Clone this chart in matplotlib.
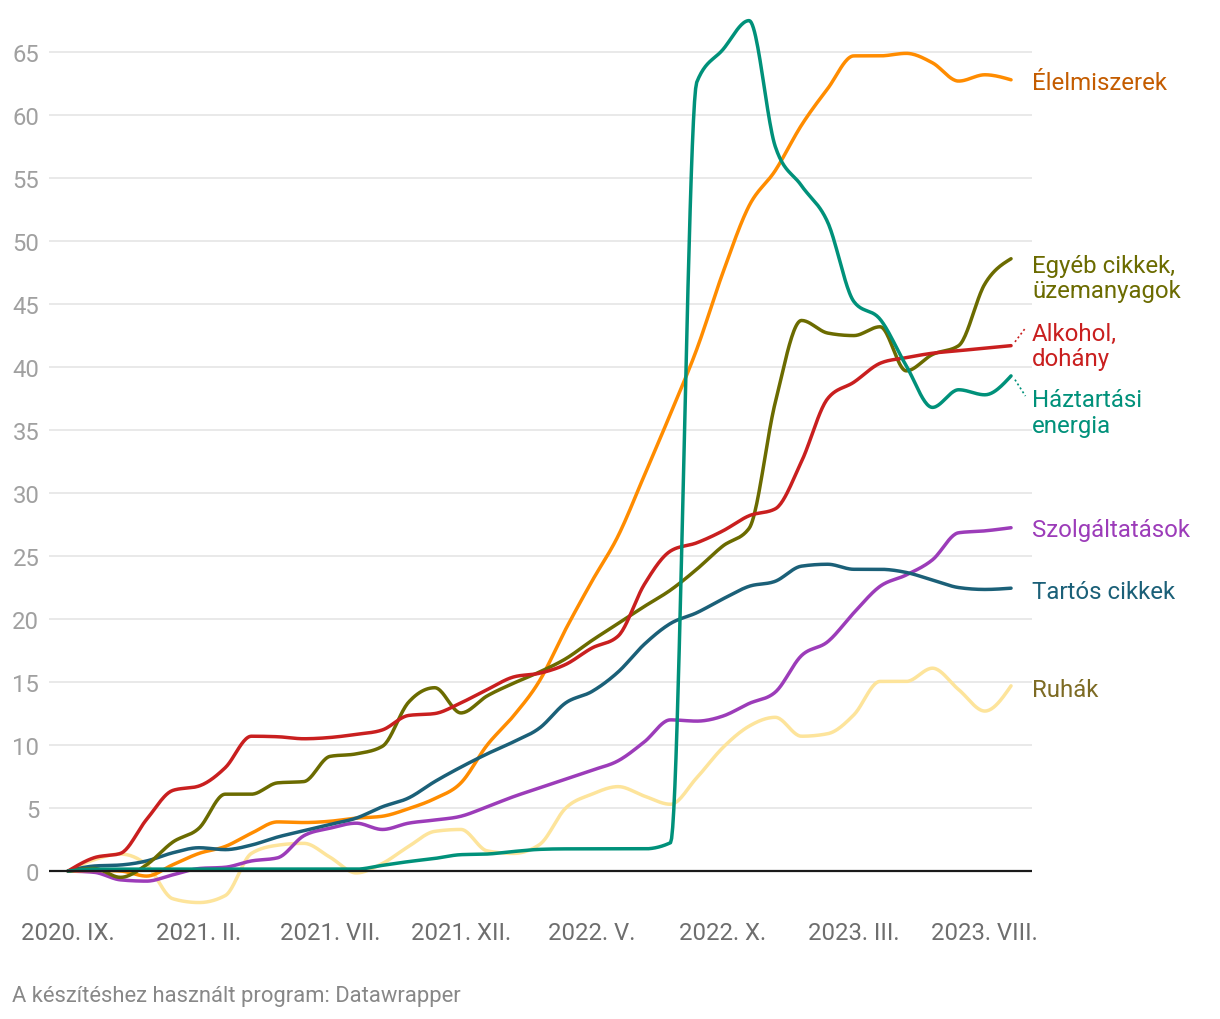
import numpy as np
import matplotlib.pyplot as plt
from matplotlib.transforms import blended_transform_factory

plt.rcParams['font.family'] = ['Roboto', 'DejaVu Sans']

# havi adatok, 2020. IX. - 2023. IX.
months = ['2020. IX.', '2020. X.', '2020. XI.', '2020. XII.',
          '2021. I.', '2021. II.', '2021. III.', '2021. IV.', '2021. V.', '2021. VI.',
          '2021. VII.', '2021. VIII.', '2021. IX.', '2021. X.', '2021. XI.', '2021. XII.',
          '2022. I.', '2022. II.', '2022. III.', '2022. IV.', '2022. V.', '2022. VI.',
          '2022. VII.', '2022. VIII.', '2022. IX.', '2022. X.', '2022. XI.', '2022. XII.',
          '2023. I.', '2023. II.', '2023. III.', '2023. IV.', '2023. V.', '2023. VI.',
          '2023. VII.', '2023. VIII.', '2023. IX.']
tick_labels = ['2020. IX.', '2021. II.', '2021. VII.', '2021. XII.',
               '2022. V.', '2022. X.', '2023. III.', '2023. VIII.']

elelmiszerek = [0, 0.05, 0.0, -0.4, 0.5, 1.4, 1.95, 3.0, 3.9, 3.85, 3.95, 4.2, 4.35,
                4.95, 5.75, 7.0, 10.0, 12.3, 15.1, 19.2, 23.0, 26.6, 31.4, 36.3, 41.4,
                47.5, 52.8, 55.6, 59.2, 62.1, 64.7, 64.7, 64.9, 64.15, 62.7, 63.2, 62.8]
egyeb = [0, 0.2, -0.5, 0.5, 2.3, 3.4, 6.1, 6.1, 7.0, 7.1, 9.1, 9.3, 9.9, 13.4, 14.55,
         12.55, 13.9, 14.9, 15.8, 16.85, 18.3, 19.65, 21.0, 22.3, 23.95, 25.8, 27.2,
         37.2, 43.7, 42.7, 42.5, 43.2, 39.7, 41.0, 41.7, 46.6, 48.6]
alkohol = [0, 1.06, 1.4, 4.1, 6.4, 6.75, 8.2, 10.7, 10.66, 10.5, 10.6, 10.85, 11.2,
           12.35, 12.5, 13.35, 14.4, 15.4, 15.7, 16.4, 17.7, 18.65, 22.75, 25.4, 26.05,
           27.0, 28.2, 28.75, 32.5, 37.5, 38.8, 40.3, 40.75, 41.1, 41.3, 41.5, 41.7]
energia = [0, 0.15, 0.15, 0.15, 0.15, 0.15, 0.15, 0.15, 0.15, 0.15, 0.15, 0.15, 0.45,
           0.75, 1.0, 1.3, 1.35, 1.55, 1.72, 1.76, 1.76, 1.76, 1.76, 2.25, 62.6, 65.2,
           67.5, 57.5, 54.4, 51.5, 45.2, 43.8, 40.1, 36.8, 38.2, 37.8, 39.3]
szolgaltatasok = [0, -0.1, -0.7, -0.8, -0.3, 0.2, 0.3, 0.8, 1.05, 2.8, 3.4, 3.8, 3.3,
                  3.8, 4.05, 4.35, 5.1, 5.9, 6.6, 7.3, 8.0, 8.75, 10.25, 12.0, 11.9,
                  12.3, 13.3, 14.2, 17.1, 18.2, 20.5, 22.6, 23.5, 24.7, 26.85, 27.0, 27.25]
tartos = [0, 0.4, 0.48, 0.8, 1.45, 1.85, 1.7, 2.06, 2.7, 3.2, 3.7, 4.2, 5.1, 5.8, 7.1,
          8.25, 9.3, 10.25, 11.35, 13.35, 14.25, 15.8, 18.0, 19.65, 20.5, 21.6, 22.6,
          23.0, 24.2, 24.35, 23.95, 23.95, 23.7, 23.1, 22.5, 22.35, 22.45]
ruhak = [0, 0.9, 1.35, 0.5, -2.2, -2.5, -1.95, 1.4, 2.05, 2.2, 1.1, -0.15, 0.6, 1.95,
         3.15, 3.3, 1.6, 1.4, 2.1, 5.0, 6.1, 6.7, 5.95, 5.3, 7.4, 9.8, 11.5, 12.2, 10.7,
         10.9, 12.4, 15.05, 15.05, 16.1, 14.4, 12.7, 14.7]

# (név, adatok, vonalszín, feliratszín, felirat y)
series = [
    ('Ruhák', ruhak, '#fde49b', '#7d6b24', 14.4),
    ('Szolgáltatások', szolgaltatasok, '#9c3cb9', '#9c3cb9', 27.1),
    ('Élelmiszerek', elelmiszerek, '#ff8c00', '#c45c00', 62.6),
    ('Tartós cikkek', tartos, '#1b6078', '#1b6078', 22.2),
    ('Egyéb cikkek,\nüzemanyagok', egyeb, '#6b6b00', '#6b6b00', 47.1),
    ('Alkohol,\ndohány', alkohol, '#c91f1f', '#c91f1f', 41.65),
    ('Háztartási\nenergia', energia, '#00917a', '#00917a', 36.4),
]


def monotone(x, y, n=24):
    # d3 curveMonotoneX
    x = np.asarray(x, float)
    y = np.asarray(y, float)
    h = np.diff(x)
    s = np.diff(y) / h
    m = np.zeros(len(x))
    for i in range(1, len(x) - 1):
        p = (s[i - 1] * h[i] + s[i] * h[i - 1]) / (h[i - 1] + h[i])
        m[i] = (np.sign(s[i - 1]) + np.sign(s[i])) * min(abs(s[i - 1]), abs(s[i]), 0.5 * abs(p))
    m[0] = (3 * s[0] - m[1]) / 2
    m[-1] = (3 * s[-1] - m[-2]) / 2
    xs, ys = [], []
    for i in range(len(x) - 1):
        t = np.linspace(0, 1, n, endpoint=False)
        h00 = 2 * t**3 - 3 * t**2 + 1
        h10 = t**3 - 2 * t**2 + t
        h01 = -2 * t**3 + 3 * t**2
        h11 = t**3 - t**2
        xs.append(x[i] + t * h[i])
        ys.append(h00 * y[i] + h10 * h[i] * m[i] + h01 * y[i + 1] + h11 * h[i] * m[i + 1])
    xs.append([x[-1]])
    ys.append([y[-1]])
    return np.concatenate(xs), np.concatenate(ys)


x = np.arange(len(months))

fig = plt.figure(figsize=(12.2, 10.2), dpi=100)
ax = fig.add_axes([0.0402, 0.108, 0.8057, 0.877])

for name, vals, color, lcolor, ly in series:
    sx, sy = monotone(x, vals)
    ax.plot(sx, sy, color=color, lw=2.5, solid_capstyle='round', zorder=3)

ax.set_xlim(-0.725, 36.8)
ax.set_ylim(-3, 68)

yt = np.arange(0, 70, 5)
ax.set_yticks(yt)
ax.set_yticklabels([str(v) for v in yt])
for v in yt:
    if v == 0:
        ax.axhline(0, color='#1a1a1a', lw=1.6, zorder=4)
    else:
        ax.axhline(v, color='#e3e3e3', lw=1.1, zorder=1)

ax.set_xticks([months.index(t) for t in tick_labels])
ax.set_xticklabels(tick_labels)
ax.tick_params(axis='both', length=0)
ax.tick_params(axis='y', pad=7, labelsize=17.2, labelcolor='#a0a0a0')
ax.tick_params(axis='x', pad=9, labelsize=17.2, labelcolor='#6e6e6e')
for sp in ax.spines.values():
    sp.set_visible(False)

# vonalvégi feliratok
tr = blended_transform_factory(ax.transAxes, ax.transData)
for name, vals, color, lcolor, ly in series:
    ax.text(1.0, ly, name, transform=tr, color=lcolor, fontsize=17.3,
            va='center', ha='left', linespacing=1.12, clip_on=False)

# szaggatott összekötők
ax.plot([36.15, 36.55], [42.0, 43.1], color='#c91f1f', lw=1.2, ls=(0, (1.2, 1.6)),
        clip_on=False)
ax.plot([36.15, 36.55], [39.0, 37.7], color='#00917a', lw=1.2, ls=(0, (1.2, 1.6)),
        clip_on=False)

fig.text(12 / 1220, 1 - 997 / 1020, 'A készítéshez használt program: Datawrapper',
         color='#888888', fontsize=15.8, va='center', ha='left')

fig.savefig('out.png', dpi=100)
